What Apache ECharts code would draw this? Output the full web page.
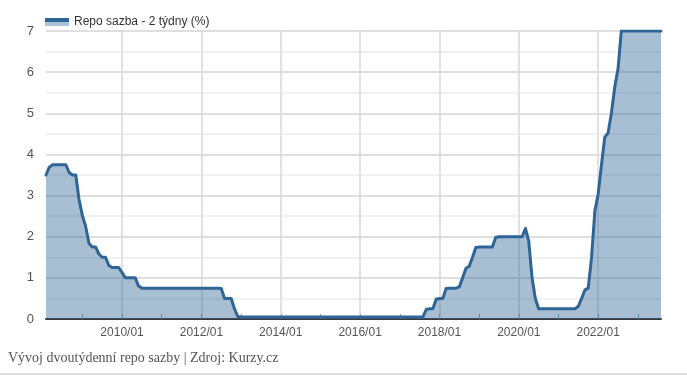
<!DOCTYPE html>
<html>
<head>
<meta charset="utf-8">
<script src="https://cdn.jsdelivr.net/npm/echarts@6/dist/echarts.min.js"></script>
<style>
html,body{margin:0;padding:0;background:#fff;}
#chart{width:687px;height:376px;}
</style>
</head>
<body>
<div id="chart"></div>
<script>
// Series name and caption
const seriesName = 'Repo sazba - 2 týdny (%)';
const captionText = 'Vývoj dvoutýdenní repo sazby | Zdroj: Kurzy.cz';

// Monthly points, first point 2008/02, last point 2023/08
const startYear = 2008, startMonth = 2, monthCount = 187;
const months = [];
for (let i = 0; i < monthCount; i++) {
  const m = startMonth - 1 + i;
  const y = startYear + Math.floor(m / 12);
  const mm = (m % 12) + 1;
  months.push(y + '/' + (mm < 10 ? '0' + mm : mm));
}

// Repo rate values (%)
const repoRate = [
  // 2008 Feb-Dec
  3.50, 3.69, 3.75, 3.75, 3.75, 3.75, 3.75, 3.56, 3.50, 3.50, 2.90,
  // 2009
  2.52, 2.25, 1.84, 1.75, 1.75, 1.58, 1.50, 1.50, 1.30, 1.25, 1.25, 1.25,
  // 2010
  1.13, 1.00, 1.00, 1.00, 1.00, 0.80, 0.75, 0.75, 0.75, 0.75, 0.75, 0.75,
  // 2011
  0.75, 0.75, 0.75, 0.75, 0.75, 0.75, 0.75, 0.75, 0.75, 0.75, 0.75, 0.75,
  // 2012
  0.75, 0.75, 0.75, 0.75, 0.75, 0.75, 0.74, 0.50, 0.50, 0.50, 0.25, 0.06,
  // 2013
  0.05, 0.05, 0.05, 0.05, 0.05, 0.05, 0.05, 0.05, 0.05, 0.05, 0.05, 0.05,
  // 2014
  0.05, 0.05, 0.05, 0.05, 0.05, 0.05, 0.05, 0.05, 0.05, 0.05, 0.05, 0.05,
  // 2015
  0.05, 0.05, 0.05, 0.05, 0.05, 0.05, 0.05, 0.05, 0.05, 0.05, 0.05, 0.05,
  // 2016
  0.05, 0.05, 0.05, 0.05, 0.05, 0.05, 0.05, 0.05, 0.05, 0.05, 0.05, 0.05,
  // 2017
  0.05, 0.05, 0.05, 0.05, 0.05, 0.05, 0.05, 0.05, 0.23, 0.25, 0.25, 0.48,
  // 2018
  0.50, 0.50, 0.74, 0.75, 0.75, 0.75, 0.78, 1.00, 1.23, 1.28, 1.50, 1.74,
  // 2019
  1.75, 1.75, 1.75, 1.75, 1.75, 1.98, 2.00, 2.00, 2.00, 2.00, 2.00, 2.00,
  // 2020
  2.00, 2.00, 2.20, 1.89, 1.00, 0.49, 0.25, 0.25, 0.25, 0.25, 0.25, 0.25,
  // 2021
  0.25, 0.25, 0.25, 0.25, 0.25, 0.25, 0.31, 0.50, 0.71, 0.75, 1.50, 2.63,
  // 2022
  3.04, 3.75, 4.42, 4.52, 5.00, 5.63, 6.08, 7.00, 7.00, 7.00, 7.00, 7.00,
  // 2023 Jan-Aug
  7.00, 7.00, 7.00, 7.00, 7.00, 7.00, 7.00, 7.00
];

const yMin = 0, yMax = 7, yStep = 1;

const lineColor = '#2f6596';

function isJan(v) { return v.slice(5) === '01'; }
function isLabelYear(v) { return isJan(v) && parseInt(v.slice(0, 4), 10) % 2 === 0; }

const chart = echarts.init(document.getElementById('chart'), null, { renderer: 'canvas' });
chart.setOption({
  animation: false,
  backgroundColor: '#fff',
  textStyle: { fontFamily: 'Liberation Sans, Arial, sans-serif' },
  legend: {
    left: 40,
    top: 11,
    icon: 'rect',
    itemWidth: 24,
    itemHeight: 8,
    itemGap: 10,
    textStyle: { color: '#333', fontSize: 12, fontFamily: 'Liberation Sans, Arial, sans-serif' },
    data: [{
      name: seriesName,
      itemStyle: {
        color: new echarts.graphic.LinearGradient(0, 0, 0, 1, [
          { offset: 0, color: lineColor },
          { offset: 0.45, color: lineColor },
          { offset: 0.46, color: '#a9c1d9' },
          { offset: 1, color: '#a9c1d9' }
        ])
      }
    }]
  },
  grid: { left: 46, right: 26, top: 31, bottom: 57, containLabel: false },
  xAxis: {
    type: 'category',
    data: months,
    boundaryGap: false,
    axisLine: { show: true, lineStyle: { color: '#3a3a3a', width: 2 } },
    axisTick: {
      show: true,
      inside: true,
      length: 5,
      interval: function (idx, v) { return isJan(v); },
      lineStyle: { color: '#8a9fb3' }
    },
    axisLabel: {
      interval: function (idx, v) { return isLabelYear(v); },
      color: '#555',
      fontSize: 12,
      margin: 8,
      fontFamily: 'Liberation Sans, Arial, sans-serif'
    },
    splitLine: {
      show: true,
      interval: function (idx, v) { return isLabelYear(v); },
      lineStyle: { color: '#d9d9d9', width: 1.5 }
    }
  },
  yAxis: {
    type: 'value',
    min: yMin,
    max: yMax,
    interval: yStep,
    axisLine: { show: false },
    axisTick: { show: false },
    axisLabel: { color: '#555', fontSize: 13, margin: 12, fontFamily: 'Liberation Sans, Arial, sans-serif' },
    splitLine: { show: true, lineStyle: { color: '#d4d4d4', width: 1.5 } },
    minorTick: { show: false, splitNumber: 2 },
    minorSplitLine: { show: true, lineStyle: { color: '#ededed', width: 1.5 } }
  },
  series: [{
    name: seriesName,
    type: 'line',
    data: repoRate,
    showSymbol: false,
    symbol: 'none',
    smooth: false,
    lineStyle: { color: lineColor, width: 3, join: 'round', cap: 'round' },
    itemStyle: { color: lineColor },
    areaStyle: { color: lineColor, opacity: 0.42, origin: 'start' }
  }],
  graphic: [
    {
      type: 'text',
      left: 8,
      top: 351,
      style: {
        text: captionText,
        fill: '#555',
        font: '14px "Liberation Serif", "DejaVu Serif", serif'
      }
    },
    {
      type: 'rect',
      left: 0,
      top: 373,
      shape: { width: 687, height: 2 },
      style: { fill: '#dddddd' }
    }
  ]
});
</script>
</body>
</html>
